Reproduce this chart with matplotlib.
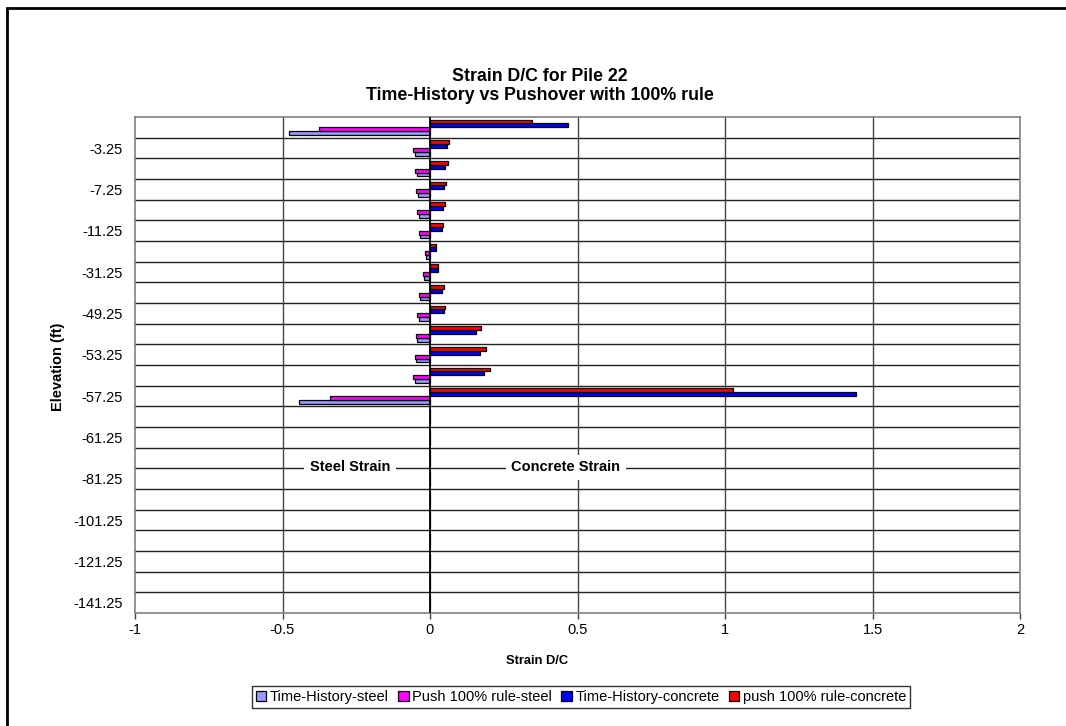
import numpy as np
import matplotlib
matplotlib.use("Agg")
import matplotlib.pyplot as plt
from matplotlib.patches import Rectangle, Patch

plt.rcParams['font.family'] = ['Liberation Sans', 'DejaVu Sans']

# elevations, top row first (only every other one is labelled in the chart)
elev = [-1.25, -3.25, -5.25, -7.25, -9.25, -11.25, -21.25, -31.25, -41.25, -49.25,
        -51.25, -53.25, -55.25, -57.25, -59.25, -61.25, -71.25, -81.25, -91.25,
        -101.25, -111.25, -121.25, -131.25, -141.25]

th_steel = [-0.477, -0.050, -0.045, -0.041, -0.037, -0.033, -0.015, -0.020, -0.034, -0.038,
            -0.043, -0.046, -0.050, -0.443, 0, 0, 0, 0, 0, 0, 0, 0, 0, 0]
push_steel = [-0.376, -0.057, -0.052, -0.049, -0.044, -0.038, -0.017, -0.023, -0.038, -0.043,
              -0.049, -0.052, -0.056, -0.338, 0, 0, 0, 0, 0, 0, 0, 0, 0, 0]
th_conc = [0.467, 0.057, 0.052, 0.049, 0.045, 0.040, 0.019, 0.027, 0.042, 0.046,
           0.156, 0.168, 0.182, 1.444, 0, 0, 0, 0, 0, 0, 0, 0, 0, 0]
push_conc = [0.345, 0.065, 0.060, 0.055, 0.050, 0.045, 0.021, 0.028, 0.047, 0.052,
             0.174, 0.191, 0.204, 1.026, 0, 0, 0, 0, 0, 0, 0, 0, 0, 0]

series = [("Time-History-steel", th_steel, "#9999FF"),
          ("Push 100% rule-steel", push_steel, "#FF00FF"),
          ("Time-History-concrete", th_conc, "#0000FF"),
          ("push 100% rule-concrete", push_conc, "#FF0000")]

W, H = 1066, 726
fig = plt.figure(figsize=(W / 100, H / 100), dpi=100)
ax = fig.add_axes([135 / W, 1 - 613 / H, (1020 - 135) / W, (613 - 117) / H])

y = np.arange(len(elev))
h = 0.1875
offs = [1.5 * h, 0.5 * h, -0.5 * h, -1.5 * h]
for (name, vals, col), off in zip(series, offs):
    ax.barh(y + off, vals, height=h, color=col, edgecolor='black', linewidth=0.9, zorder=3)

ax.set_xlim(-1, 2)
ax.set_ylim(len(elev) - 0.5, -0.5)

# gridlines
for b in np.arange(0.5, len(elev) - 0.5, 1):
    ax.axhline(b, color='#222222', lw=1.0, zorder=1)
for xv in [-0.5, 0.5, 1, 1.5]:
    ax.axvline(xv, color='#444444', lw=1.0, zorder=1)
ax.axvline(0, color='black', lw=1.3, zorder=4)

for s in ax.spines.values():
    s.set_color('#808080')
    s.set_linewidth(1.2)

ax.set_xticks([-1, -0.5, 0, 0.5, 1, 1.5, 2])
ax.set_xticklabels(['-1', '-0.5', '0', '0.5', '1', '1.5', '2'])
ax.set_yticks(y)
ax.set_yticklabels([("%g" % e) if i % 2 == 1 else "" for i, e in enumerate(elev)])
ax.tick_params(axis='x', direction='out', length=4, width=1, color='#404040', labelsize=10.5, pad=3)
ax.tick_params(axis='y', length=0, labelsize=10.5, pad=9)

ax.text(-0.271, 16.45, "Steel Strain", ha='center', va='center', fontsize=10.5,
        fontweight='bold', zorder=5,
        bbox=dict(facecolor='white', edgecolor='none', pad=4))
ax.text(0.46, 16.45, "Concrete Strain", ha='center', va='center', fontsize=10.5,
        fontweight='bold', zorder=5,
        bbox=dict(facecolor='white', edgecolor='none', pad=4))

fig.text(540 / W, 1 - 86 / H, "Strain D/C for Pile 22\nTime-History vs Pushover with 100% rule",
         ha='center', va='center', fontsize=12.75, fontweight='bold', linespacing=1.1)
fig.text(537 / W, 1 - 661 / H, "Strain D/C", ha='center', va='center',
         fontsize=9.3, fontweight='bold')
fig.text(58 / W, 1 - 367 / H, "Elevation (ft)", ha='center', va='center', rotation=90,
         fontsize=10.5, fontweight='bold')

handles = [Patch(facecolor=c, edgecolor='black', linewidth=0.9, label=n) for n, v, c in series]
leg = fig.legend(handles=handles, loc='center', bbox_to_anchor=(581 / W, 1 - 697 / H), ncol=4,
                 fontsize=10.5, frameon=True, fancybox=False, edgecolor='black',
                 handlelength=0.75, handleheight=0.75, handletextpad=0.25,
                 columnspacing=0.6, borderpad=0.25, borderaxespad=0)
leg.get_frame().set_linewidth(1.0)

# outer chart border
fig.patches.append(Rectangle((7 / W, -0.1), 2, 1.1 - 8 / H, transform=fig.transFigure,
                             fill=False, edgecolor='black', linewidth=2))

fig.savefig("out.png", dpi=100, facecolor='white')
